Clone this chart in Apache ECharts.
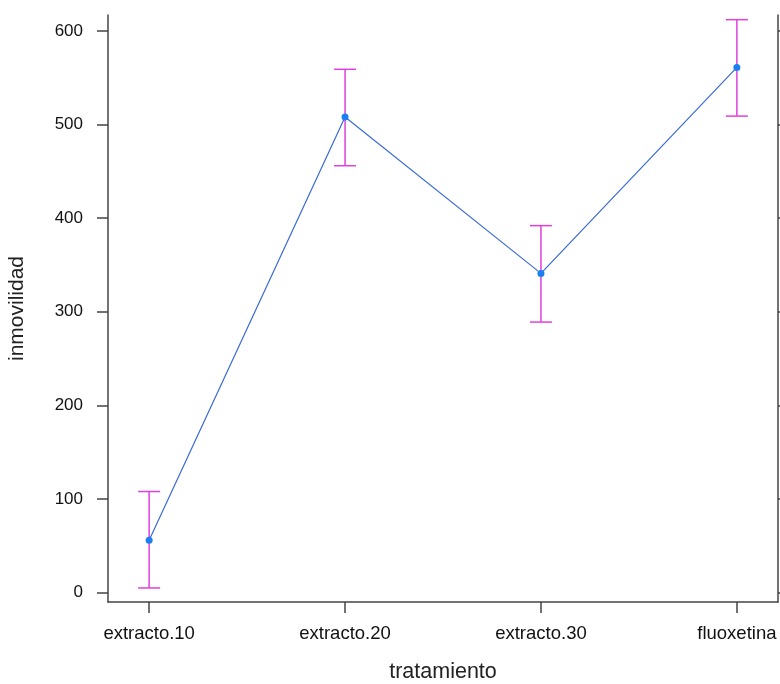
<!DOCTYPE html>
<html>
<head>
<meta charset="utf-8">
<script src="https://cdn.jsdelivr.net/npm/echarts@6/dist/echarts.min.js"></script>
<style>html,body{margin:0;padding:0;background:#fff}#c{width:780px;height:684px}</style>
</head>
<body>
<div id="c"></div>
<script>
const categories = ['extracto.10', 'extracto.20', 'extracto.30', 'fluoxetina'];
const means = [56, 508, 341, 561];
const lowerBounds = [5, 456, 289, 509];
const upperBounds = [108, 559, 392, 612];
const yTicks = [0, 100, 200, 300, 400, 500, 600];

const positions = categories.map((c, i) => i + 1);
const lineData = means.map((v, i) => [positions[i], v]);
const errData = means.map((v, i) => [positions[i], lowerBounds[i], upperBounds[i]]);

const chart = echarts.init(document.getElementById('c'));
const font = 'Liberation Sans, Arial, sans-serif';
const axisColor = '#444';

chart.setOption({
  animation: false,
  backgroundColor: '#fff',
  grid: { left: 108, right: 2, top: 15, bottom: 82, outerBoundsMode: 'none', containLabel: false },
  xAxis: {
    type: 'value',
    min: 0.79, max: 4.21,
    name: 'tratamiento',
    nameLocation: 'middle',
    nameGap: 59,
    nameTextStyle: { fontSize: 21.5, color: '#222', fontFamily: font },
    axisLine: { show: true, onZero: false, lineStyle: { color: axisColor, width: 1.5 } },
    axisTick: { show: true, length: 11, lineStyle: { color: axisColor, width: 1.5 }, customValues: positions },
    axisLabel: {
      customValues: positions,
      margin: 22,
      fontSize: 18.5, color: '#111', fontFamily: font,
      formatter: v => categories[Math.round(v) - 1] || ''
    },
    splitLine: { show: false }
  },
  yAxis: [{
    type: 'value',
    min: -10, max: 617,
    name: 'inmovilidad',
    nameLocation: 'middle',
    nameGap: 80,
    nameTextStyle: { fontSize: 21, color: '#222', fontFamily: font },
    axisLine: { show: true, onZero: false, lineStyle: { color: axisColor, width: 1.5 } },
    axisTick: { show: true, length: 11, lineStyle: { color: axisColor, width: 1.5 }, customValues: yTicks },
    axisLabel: { customValues: yTicks, margin: 25, fontSize: 17, color: '#111', fontFamily: font },
    splitLine: { show: false }
  }, {
    type: 'value',
    position: 'right',
    min: -10, max: 617,
    axisLine: { show: true, onZero: false, lineStyle: { color: axisColor, width: 1.5 } },
    axisTick: { show: true, length: 11, lineStyle: { color: axisColor, width: 1.5 }, customValues: yTicks },
    axisLabel: { show: false },
    splitLine: { show: false }
  }],
  series: [{
    type: 'custom',
    data: errData,
    z: 2,
    renderItem: function (params, api) {
      const x = api.value(0);
      const lo = api.coord([x, api.value(1)]);
      const hi = api.coord([x, api.value(2)]);
      const hw = 11;
      const style = { stroke: '#e040e0', lineWidth: 1.5 };
      return {
        type: 'group',
        children: [
          { type: 'line', shape: { x1: lo[0], y1: lo[1], x2: hi[0], y2: hi[1] }, style },
          { type: 'line', shape: { x1: lo[0] - hw, y1: lo[1], x2: lo[0] + hw, y2: lo[1] }, style },
          { type: 'line', shape: { x1: hi[0] - hw, y1: hi[1], x2: hi[0] + hw, y2: hi[1] }, style }
        ]
      };
    }
  }, {
    type: 'line',
    data: lineData,
    z: 3,
    symbol: 'circle',
    symbolSize: 7,
    itemStyle: { color: '#1a80f0' },
    lineStyle: { color: '#3a6ad8', width: 1.2 }
  }]
});
</script>
</body>
</html>
